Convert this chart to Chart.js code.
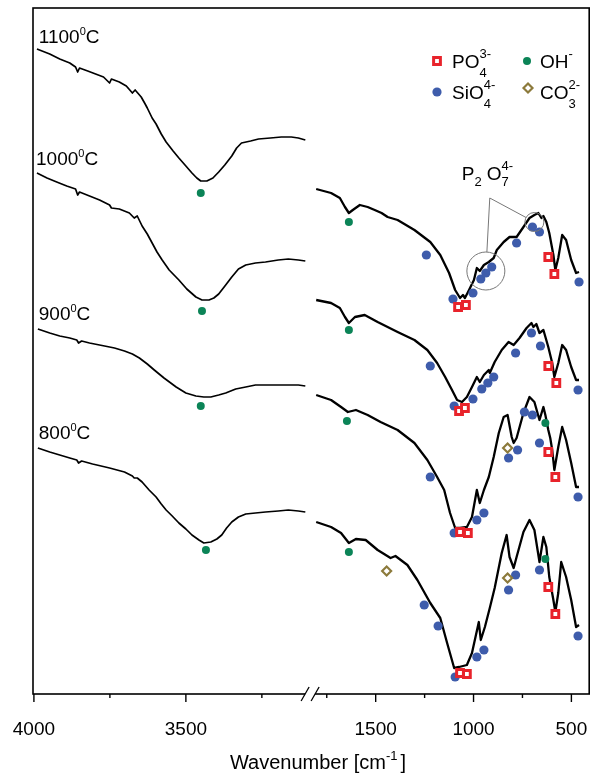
<!DOCTYPE html>
<html>
<head>
<meta charset="utf-8">
<script src="https://cdn.jsdelivr.net/npm/chart.js@4.4.1/dist/chart.umd.min.js"></script>
<style>
  html, body { margin: 0; padding: 0; background: #fff; }
</style>
</head>
<body>
<canvas id="ftir" width="597" height="774"></canvas>
<script>
// FTIR spectra, [wavenumber cm-1, transmittance a.u. (offset)]
// left panel 4000-3100 cm-1
const s1100Left = [[3990,64.4],[3948,63.9],[3915,63.4],[3882,63.0],[3863,62.6],[3856,62.1],[3850,62.5],[3823,62.2],[3797,61.9],[3771,61.6],[3751,61.0],[3745,61.4],[3719,61.1],[3696,60.7],[3676,60.0],[3667,60.3],[3647,59.6],[3634,58.9],[3627,58.5],[3611,57.5],[3598,56.9],[3581,55.9],[3565,55.1],[3542,54.2],[3523,53.5],[3500,52.7],[3480,52.0],[3464,51.5],[3451,51.2],[3431,51.2],[3411,51.5],[3392,52.1],[3372,52.8],[3349,53.7],[3333,54.5],[3317,55.0],[3287,55.2],[3261,55.4],[3222,55.5],[3186,55.6],[3153,55.6],[3130,55.5],[3107,55.3]];
const s1000Left = [[3990,52.0],[3957,51.5],[3925,51.1],[3892,50.7],[3863,50.4],[3856,49.8],[3850,50.1],[3817,49.7],[3784,49.3],[3751,48.8],[3745,48.5],[3719,48.4],[3686,48.0],[3670,47.5],[3660,47.7],[3644,46.7],[3627,45.9],[3611,45.0],[3595,44.1],[3578,43.3],[3555,42.3],[3523,41.3],[3497,40.4],[3467,39.6],[3447,39.3],[3424,39.3],[3408,39.5],[3392,39.9],[3369,40.8],[3349,41.6],[3327,42.4],[3303,42.8],[3271,43.0],[3238,43.1],[3196,43.3],[3163,43.4],[3130,43.3],[3107,43.2]];
const s900Left = [[3987,36.4],[3948,36.0],[3915,35.7],[3882,35.5],[3859,35.3],[3853,35.0],[3843,35.2],[3817,35.0],[3784,34.8],[3751,34.6],[3735,34.5],[3702,34.2],[3676,33.9],[3653,33.5],[3627,32.9],[3604,32.3],[3572,31.5],[3532,30.6],[3500,30.0],[3467,29.7],[3441,29.6],[3418,29.6],[3392,29.8],[3369,30.0],[3336,30.4],[3303,30.6],[3271,30.8],[3238,30.8],[3196,30.8],[3163,30.8],[3130,30.8],[3107,30.7]];
const s800Left = [[3987,24.5],[3948,24.1],[3915,23.8],[3882,23.5],[3859,23.3],[3853,23.0],[3843,23.2],[3807,22.9],[3751,22.5],[3702,22.1],[3676,21.7],[3670,21.5],[3660,21.5],[3644,21.1],[3621,20.3],[3598,19.6],[3581,18.9],[3565,18.3],[3545,17.7],[3523,17.0],[3500,16.4],[3480,15.8],[3457,15.3],[3441,15.0],[3418,15.1],[3398,15.4],[3382,15.8],[3366,16.5],[3349,17.1],[3327,17.6],[3303,17.9],[3271,18.0],[3238,18.1],[3196,18.2],[3163,18.3],[3130,18.2],[3107,18.1]];

// right panel 1800-450 cm-1
const s1100Right = [[1804,50.4],[1728,50.0],[1683,49.5],[1657,48.6],[1637,48.0],[1617,48.3],[1581,48.8],[1541,48.6],[1505,48.3],[1470,48.0],[1439,47.6],[1388,47.3],[1302,46.3],[1221,45.1],[1170,43.8],[1125,42.0],[1094,40.3],[1069,39.5],[1054,39.8],[1044,39.5],[1023,40.3],[998,41.3],[983,42.5],[968,42.2],[947,42.8],[922,43.1],[897,43.5],[881,44.3],[846,45.1],[816,45.6],[780,45.6],[745,46.6],[714,47.5],[689,47.8],[669,48.0],[653,47.5],[643,47.7],[628,47.1],[613,46.0],[592,43.8],[582,42.3],[567,43.5],[547,45.8],[527,45.3],[501,43.3],[476,42.0],[461,42.1]];
const s1000Right = [[1804,39.3],[1728,39.0],[1683,38.5],[1657,37.6],[1637,37.0],[1606,37.6],[1556,37.8],[1490,37.1],[1388,36.1],[1302,35.3],[1236,34.3],[1186,33.0],[1145,31.6],[1110,30.3],[1084,29.3],[1059,29.1],[1034,29.6],[1008,30.6],[983,31.6],[968,31.1],[947,31.8],[922,32.3],[917,32.0],[892,33.1],[856,34.3],[821,35.1],[795,34.8],[765,35.5],[729,36.5],[704,37.0],[694,36.6],[679,36.9],[663,36.0],[643,36.3],[618,34.6],[598,33.0],[587,31.6],[567,33.0],[547,34.8],[527,34.3],[501,32.6],[476,31.3],[461,31.3]];
const s900Right = [[1804,29.8],[1728,29.3],[1677,28.6],[1642,28.1],[1601,28.3],[1541,27.8],[1475,27.1],[1388,26.3],[1302,25.0],[1236,23.3],[1186,21.6],[1150,20.3],[1120,18.0],[1094,16.5],[1069,16.5],[1034,16.6],[1008,17.6],[983,20.3],[968,19.0],[947,20.3],[922,21.6],[897,23.6],[871,26.0],[846,27.6],[826,27.8],[805,25.6],[795,25.0],[780,25.5],[745,28.0],[714,29.6],[689,29.1],[663,27.3],[643,28.6],[633,27.8],[618,26.3],[608,25.5],[598,24.3],[587,22.3],[567,24.6],[547,26.6],[527,25.3],[501,23.0],[476,20.6],[461,20.6]];
const s800Right = [[1804,17.1],[1728,16.6],[1677,16.0],[1637,15.0],[1601,15.4],[1551,15.3],[1490,14.3],[1424,13.5],[1399,13.7],[1338,12.8],[1287,11.3],[1221,9.0],[1170,7.5],[1135,5.0],[1099,2.5],[1074,2.6],[1034,2.8],[1008,4.0],[973,7.1],[963,5.3],[942,6.6],[917,8.5],[892,10.5],[856,14.0],[831,15.8],[816,13.6],[795,12.5],[780,13.6],[745,16.1],[714,17.3],[689,16.3],[663,13.1],[643,15.6],[628,14.6],[613,11.6],[592,9.3],[582,8.1],[567,10.0],[552,13.1],[527,11.6],[501,9.3],[476,6.6],[461,6.8]];

// band assignments
const po4Bands = [[1079,38.6],[1039,38.8],[618,43.6],[587,41.9],[1074,28.2],[1044,28.5],[618,32.7],[577,31.0],[1069,16.1],[1029,16.0],[618,24.1],[582,21.6],[1069,2.0],[1034,1.9],[618,10.6],[582,7.9]];
const sio4Bands = [[1241,43.8],[1105,39.4],[1003,40.0],[963,41.4],[937,42.0],[907,42.6],[780,45.0],[699,46.6],[663,46.1],[461,41.1],
  [1221,32.7],[1099,28.7],[1003,29.4],[958,30.4],[927,31.0],[897,31.6],[785,34.0],[704,36.0],[658,34.7],[466,30.3],
  [1221,21.6],[1099,16.0],[983,17.3],[947,18.0],[821,23.5],[775,24.3],[740,28.1],[699,27.8],[663,25.0],[466,19.6],
  [1252,8.8],[1181,6.7],[1094,1.6],[983,3.6],[947,4.3],[821,10.3],[785,11.8],[663,12.3],[466,5.7]];
const ohBandsLeft = [[3451,50.0],[3447,38.2],[3451,28.7],[3434,14.3]];
const ohBandsRight = [[1637,47.1],[1637,36.3],[1647,27.2],[633,27.0],[1637,14.1],[633,13.4]];
const co3Bands = [[826,24.5],[1444,12.2],[826,11.5]];

// P2O7 annotation: circle centres and line apex
const p2o7Big = [937, 42.2];
const p2o7Small = [689, 47.1];
const p2o7Apex = [917, 49.5];

const tempLabels = ['1100', '1000', '900', '800'];
const tempLabelX = [3984, 3993, 3984, 3984];
const tempLabelY = [65.0, 52.8, 37.3, 25.4];

const majorLeft = [4000, 3500];
const minorLeft = [3750, 3250];
const majorRight = [1500, 1000, 500];
const minorRight = [1750, 1250, 750];

const FONT = '"Liberation Sans", Arial, sans-serif';
const RED = '#e8232b', BLUE = '#3e5cab', GREEN = '#0b8457', OLIVE = '#8c7a3b';

const toXY = arr => arr.map(p => ({ x: p[0], y: p[1] }));

function spectrum(data, axis, w) {
  return {
    type: 'line', data: toXY(data), xAxisID: axis, yAxisID: 'y',
    borderColor: '#000', borderWidth: w, pointRadius: 0, tension: 0,
    borderJoinStyle: 'round', fill: false, order: 2
  };
}
function bands(data, axis, style) {
  return Object.assign({
    type: 'line', data: toXY(data), xAxisID: axis, yAxisID: 'y',
    showLine: false, order: 0
  }, style);
}

const po4Style = { pointStyle: 'rect', pointRadius: 4.8, pointBackgroundColor: '#fff', pointBorderColor: RED, pointBorderWidth: 3 };
const sio4Style = { pointStyle: 'circle', pointRadius: 4.6, pointBackgroundColor: BLUE, pointBorderWidth: 0 };
const ohStyle = { pointStyle: 'circle', pointRadius: 4, pointBackgroundColor: GREEN, pointBorderWidth: 0 };
const co3Style = { pointStyle: 'rectRot', pointRadius: 4.5, pointBackgroundColor: '#fff', pointBorderColor: OLIVE, pointBorderWidth: 2.2 };

// text with sub/superscripts
function rich(ctx, x, y, parts, size, small, raise, drop) {
  let cx = x;
  parts.forEach(p => {
    if (typeof p === 'string') {
      ctx.font = size + 'px ' + FONT;
      ctx.fillText(p, cx, y);
      cx += ctx.measureText(p).width;
    } else {
      ctx.font = small + 'px ' + FONT;
      let w = 0;
      if (p.sup) { ctx.fillText(p.sup, cx, y - raise); w = Math.max(w, ctx.measureText(p.sup).width); }
      if (p.sub) { ctx.fillText(p.sub, cx, y + drop); w = Math.max(w, ctx.measureText(p.sub).width); }
      cx += w + (p.gap || 0);
    }
  });
  return cx - x;
}

function drawMarker(ctx, style, x, y) {
  ctx.save();
  ctx.fillStyle = style.pointBackgroundColor;
  ctx.strokeStyle = style.pointBorderColor || style.pointBackgroundColor;
  ctx.lineWidth = style.pointBorderWidth;
  Chart.helpers.drawPoint(ctx, {
    pointStyle: style.pointStyle, radius: style.pointRadius, borderWidth: style.pointBorderWidth
  }, x, y);
  ctx.restore();
}

const decor = {
  id: 'decor',
  afterDraw(chart) {
    const { ctx, chartArea: a, scales } = chart;
    const xL = scales.xL, xR = scales.xR, yS = scales.y;
    ctx.save();

    // frame
    ctx.strokeStyle = '#000';
    ctx.lineWidth = 1.6;
    ctx.strokeRect(a.left, a.top, a.right - a.left, a.bottom - a.top);

    // tick marks and labels
    ctx.lineWidth = 1.4;
    ctx.fillStyle = '#000';
    ctx.font = '19px ' + FONT;
    ctx.textAlign = 'center';
    ctx.textBaseline = 'alphabetic';
    const tick = (sc, v, len, label) => {
      const px = sc.getPixelForValue(v);
      ctx.beginPath(); ctx.moveTo(px, a.bottom); ctx.lineTo(px, a.bottom + len); ctx.stroke();
      if (label) ctx.fillText(String(v), px, a.bottom + 41);
    };
    majorLeft.forEach(v => tick(xL, v, 8, true));
    minorLeft.forEach(v => tick(xL, v, 4, false));
    majorRight.forEach(v => tick(xR, v, 8, true));
    minorRight.forEach(v => tick(xR, v, 4, false));
    ctx.textAlign = 'left';

    // axis break
    const bx = xL.right;
    ctx.fillStyle = '#fff';
    ctx.fillRect(bx - 6, a.bottom - 2, 10, 4);
    ctx.lineWidth = 1.3;
    [bx - 6, bx + 4].forEach(cx => {
      ctx.beginPath(); ctx.moveTo(cx - 4, a.bottom + 7); ctx.lineTo(cx + 4, a.bottom - 7); ctx.stroke();
    });

    // P2O7 annotation
    const bigC = { x: xR.getPixelForValue(p2o7Big[0]), y: yS.getPixelForValue(p2o7Big[1]), r: 19 };
    const smallC = { x: xR.getPixelForValue(p2o7Small[0]), y: yS.getPixelForValue(p2o7Small[1]), r: 9.5 };
    const apex = { x: xR.getPixelForValue(p2o7Apex[0]), y: yS.getPixelForValue(p2o7Apex[1]) };
    ctx.strokeStyle = '#777';
    ctx.lineWidth = 1;
    [bigC, smallC].forEach(c => {
      ctx.beginPath(); ctx.arc(c.x, c.y, c.r, 0, Math.PI * 2); ctx.stroke();
      const dx = apex.x - c.x, dy = apex.y - c.y, d = Math.hypot(dx, dy);
      ctx.beginPath(); ctx.moveTo(apex.x, apex.y); ctx.lineTo(c.x + dx / d * c.r, c.y + dy / d * c.r); ctx.stroke();
    });
    ctx.fillStyle = '#000';
    rich(ctx, apex.x - 28, apex.y - 18, ['P', { sub: '2', gap: 5 }, 'O', { sub: '7', sup: '4-' }], 19, 13, 10, 6);

    // temperature labels
    tempLabels.forEach((t, i) => {
      rich(ctx, xL.getPixelForValue(tempLabelX[i]), yS.getPixelForValue(tempLabelY[i]), [t, { sup: '0' }, 'C'], 19, 11, 8, 0);
    });

    // legend
    const lx1 = 437, lx2 = 527, ly1 = 61, ly2 = 92;
    drawMarker(ctx, po4Style, lx1, ly1);
    drawMarker(ctx, ohStyle, lx2, ly1);
    drawMarker(ctx, sio4Style, lx1, ly2);
    drawMarker(ctx, co3Style, lx2 + 1, ly2 - 4);
    ctx.fillStyle = '#000';
    rich(ctx, 452, 68, ['PO', { sup: '3-', sub: '4' }], 19, 13, 10, 9);
    rich(ctx, 540, 68, ['OH', { sup: '-' }], 19, 13, 10, 9);
    rich(ctx, 452, 99, ['SiO', { sup: '4-', sub: '4' }], 19, 13, 10, 9);
    rich(ctx, 540, 99, ['CO', { sup: '2-', sub: '3' }], 19, 13, 10, 9);

    // axis title
    const parts = ['Wavenumber [cm', { sup: '-1', gap: 3 }, ']'];
    ctx.fillStyle = 'rgba(0,0,0,0)';
    const w = rich(ctx, 0, -100, parts, 20, 13, 9, 0);
    ctx.fillStyle = '#000';
    rich(ctx, 318 - w / 2, 769, parts, 20, 13, 9, 0);

    ctx.restore();
  }
};

Chart.defaults.font.family = FONT;
Chart.defaults.color = '#000';

const hiddenAxis = (min, max) => ({
  type: 'linear', position: 'bottom', stack: 'wn', stackWeight: 1,
  reverse: true, min: min, max: max,
  grid: { display: false, drawTicks: false }, border: { display: false },
  ticks: { display: false }
});

new Chart(document.getElementById('ftir'), {
  type: 'line',
  data: {
    datasets: [
      bands(po4Bands, 'xR', po4Style),
      bands(co3Bands, 'xR', co3Style),
      bands(ohBandsRight, 'xR', ohStyle),
      bands(ohBandsLeft, 'xL', ohStyle),
      bands(sio4Bands, 'xR', sio4Style),
      spectrum(s1100Left, 'xL', 1.7),
      spectrum(s1000Left, 'xL', 1.7),
      spectrum(s900Left, 'xL', 1.7),
      spectrum(s800Left, 'xL', 1.7),
      spectrum(s1100Right, 'xR', 2.3),
      spectrum(s1000Right, 'xR', 2.3),
      spectrum(s900Right, 'xR', 2.3),
      spectrum(s800Right, 'xR', 2.3)
    ]
  },
  options: {
    responsive: false,
    animation: false,
    events: [],
    layout: { padding: { left: 33, right: 3, top: 8, bottom: 80 } },
    plugins: { legend: { display: false }, tooltip: { enabled: false } },
    scales: {
      xL: hiddenAxis(3088, 4003),
      xR: hiddenAxis(409, 1830),
      y: { display: false, min: -0.1, max: 68.5 }
    }
  },
  plugins: [decor]
});
</script>
</body>
</html>
